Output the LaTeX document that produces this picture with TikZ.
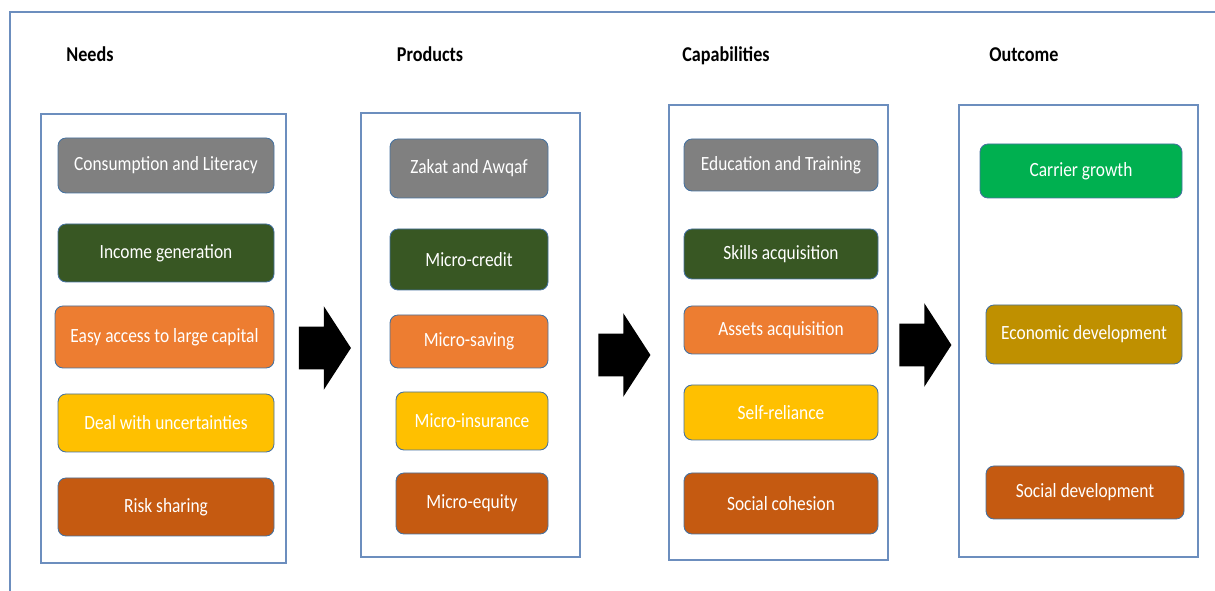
\documentclass[tikz,border=0pt]{standalone}
\usepackage{fontspec}
\setmainfont{Carlito}[FakeStretch=0.86]
\usetikzlibrary{shapes.arrows}

\definecolor{frameblue}{RGB}{108,142,190}
\definecolor{edgeblue}{RGB}{70,114,160}
\definecolor{tilegray}{RGB}{128,128,128}
\definecolor{tilegreen}{RGB}{56,87,35}
\definecolor{tileorange}{RGB}{237,125,49}
\definecolor{tileyellow}{RGB}{255,192,0}
\definecolor{tilerust}{RGB}{197,90,17}
\definecolor{tilelime}{RGB}{0,176,80}
\definecolor{tilegold}{RGB}{191,144,0}

\tikzset{
  size/.style 2 args={minimum width=#1*0.02cm, minimum height=#2*0.02cm},
  column/.style={shape=rectangle, draw=frameblue, line width=0.7pt, inner sep=0pt},
  tile/.style={shape=rectangle, rounded corners=0.16cm, draw=edgeblue, line width=0.5pt,
    fill=#1, text=white, inner sep=0pt, font=\fontsize{11.5}{13}\selectfont},
  heading/.style={font=\fontsize{12}{14}\selectfont\bfseries, text height=1.6ex, text depth=0.45ex},
  flow/.style={single arrow, fill=black, draw=none, inner xsep=0pt, inner ysep=0.42cm,
    minimum height=1.04cm, single arrow head extend=0.41cm, single arrow tip angle=114}
}

\begin{document}
\begin{tikzpicture}[x=0.02cm, y=-0.02cm]
  \useasboundingbox (0,0) rectangle (1215,591);
  \draw[frameblue, line width=0.8pt] (10,591) |- (1215,12);

  % headings
  \node[heading] (hneeds) at (90,57) {Needs};
  \node[heading] (hprod) at (430,57) {Products};
  \node[heading] (hcap) at (726,57) {Capabilities};
  \node[heading] (hout) at (1024,57) {Outcome};

  % columns
  \node[column, size={245}{449}] (needs) at (163.5,338.5) {};
  \node[column, size={219}{444}] (prod) at (470.5,335) {};
  \node[column, size={219}{455}] (cap) at (778.5,332.5) {};
  \node[column, size={239}{452}] (out) at (1078.5,331) {};

  % needs
  \node[tile=tilegray, size={216}{55}] (cl) at (166,165.5) {Consumption and Literacy};
  \node[tile=tilegreen, size={216}{58}] (ig) at (166,253) {Income generation};
  \node[tile=tileorange, size={219}{62}] (ea) at (164.5,337) {Easy access to large capital};
  \node[tile=tileyellow, size={216}{58}] (du) at (166,423) {Deal with uncertainties};
  \node[tile=tilerust, size={216}{58}] (rs) at (166,507) {Risk sharing};

  % products
  \node[tile=tilegray, size={158}{59}] (za) at (469,168.5) {Zakat and Awqaf};
  \node[tile=tilegreen, size={158}{61}] (mc) at (469,259.5) {Micro-credit};
  \node[tile=tileorange, size={158}{53}] (ms) at (469,341.5) {Micro-saving};
  \node[tile=tileyellow, size={152}{58}] (mi) at (472,421) {Micro-insurance};
  \node[tile=tilerust, size={152}{61}] (me) at (472,503.5) {Micro-equity};

  % capabilities
  \node[tile=tilegray, size={194}{52}] (et) at (781,165) {Education and Training};
  \node[tile=tilegreen, size={194}{50}] (sa) at (781,254) {Skills acquisition};
  \node[tile=tileorange, size={194}{48}] (aa) at (781,330) {Assets acquisition};
  \node[tile=tileyellow, size={194}{55}] (sr) at (781,412.5) {Self-reliance};
  \node[tile=tilerust, size={194}{61}] (sc) at (781,503.5) {Social cohesion};

  % outcome
  \node[tile=tilelime, size={202}{54}] (cg) at (1081,171) {Carrier growth};
  \node[tile=tilegold, size={196}{59}] (ed) at (1084,334.5) {Economic development};
  \node[tile=tilerust, size={198}{53}] (sd) at (1085,492.5) {Social development};

  % block arrows between columns
  \node[flow] (a1) at (318,348) {};
  \node[flow] (a2) at (617.5,355) {};
  \node[flow] (a3) at (918.5,345) {};
\end{tikzpicture}
\end{document}
